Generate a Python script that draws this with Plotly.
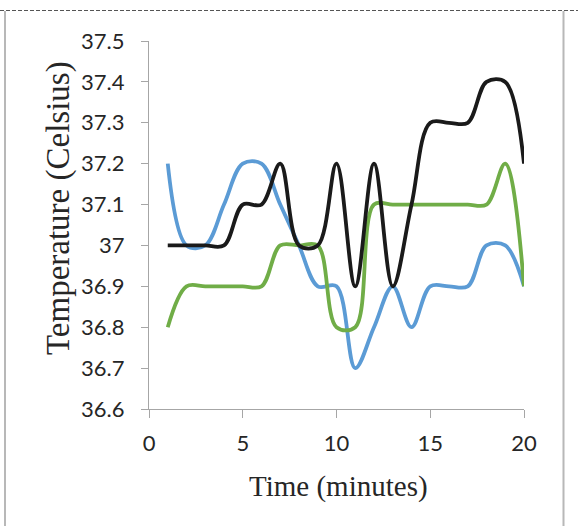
import plotly.graph_objects as go

minutes = list(range(1, 21))
blue_temp = [37.2, 37.0, 37.0, 37.1, 37.2, 37.2, 37.1, 37.0, 36.9, 36.9,
             36.7, 36.8, 36.9, 36.8, 36.9, 36.9, 36.9, 37.0, 37.0, 36.9]
green_temp = [36.8, 36.9, 36.9, 36.9, 36.9, 36.9, 37.0, 37.0, 37.0, 36.8,
              36.8, 37.1, 37.1, 37.1, 37.1, 37.1, 37.1, 37.1, 37.2, 36.9]
black_temp = [37.0, 37.0, 37.0, 37.0, 37.1, 37.1, 37.2, 37.0, 37.0, 37.2,
              36.9, 37.2, 36.9, 37.1, 37.3, 37.3, 37.3, 37.4, 37.4, 37.2]

y_ticks = [36.6, 36.7, 36.8, 36.9, 37.0, 37.1, 37.2, 37.3, 37.4, 37.5]
y_tick_text = ["36.6", "36.7", "36.8", "36.9", "37", "37.1", "37.2", "37.3", "37.4", "37.5"]
x_ticks = [0, 5, 10, 15, 20]

W, H = 578, 526
L, R, T, B = 149, 54, 41, 117
PW, PH = W - L - R, H - T - B

def px(x):
    return (x - L) / PW

def py(y):
    return 1 - (y - T) / PH

fig = go.Figure()
for vals, col in [(blue_temp, "#5B9BD5"), (green_temp, "#70AD47"), (black_temp, "#1A1A1A")]:
    fig.add_trace(go.Scatter(x=minutes, y=vals, mode="lines",
                             line=dict(color=col, width=3.8, shape="spline", smoothing=1.0),
                             showlegend=False, hoverinfo="skip"))

axis_col = "#A6A6A6"
tick_font = dict(family="Lato", size=22, color="#262626")
fig.update_layout(
    width=W, height=H,
    margin=dict(l=L, r=R, t=T, b=B, autoexpand=False),
    paper_bgcolor="white", plot_bgcolor="white",
    xaxis=dict(range=[0, 20], tickvals=x_ticks, showgrid=False, zeroline=False,
               showline=True, linecolor=axis_col, linewidth=1.3,
               ticks="outside", ticklen=8, tickcolor=axis_col, tickwidth=1.3,
               tickfont=tick_font, ticklabelstandoff=6),
    yaxis=dict(range=[36.6, 37.5], tickvals=y_ticks, ticktext=y_tick_text,
               showgrid=False, zeroline=False,
               showline=True, linecolor=axis_col, linewidth=1.3,
               ticks="outside", ticklen=7, tickcolor=axis_col, tickwidth=1.3,
               tickfont=tick_font, ticklabelstandoff=12),
)

title_font = "Liberation Serif"
fig.add_annotation(text="Time (minutes)", xref="paper", yref="paper",
                   x=px(338), y=py(486), xanchor="center", yanchor="middle",
                   showarrow=False, font=dict(family=title_font, size=29, color="#262626"))
fig.add_annotation(text="Temperature (Celsius)", xref="paper", yref="paper",
                   x=px(58), y=py(208), xanchor="center", yanchor="middle", textangle=-90,
                   showarrow=False, font=dict(family=title_font, size=33, color="#262626"))

# chart-area frame
fig.add_shape(type="line", xref="paper", yref="paper", x0=px(0), x1=px(W), y0=py(10.5), y1=py(10.5),
              line=dict(color="#555555", width=1.2, dash="4px,2px"))
fig.add_shape(type="line", xref="paper", yref="paper", x0=px(5), x1=px(5), y0=py(11), y1=py(H),
              line=dict(color="#B8B8B8", width=2))
fig.add_shape(type="line", xref="paper", yref="paper", x0=px(563.5), x1=px(563.5), y0=py(11), y1=py(H),
              line=dict(color="#B8B8B8", width=2))

fig.write_html("out.html")
